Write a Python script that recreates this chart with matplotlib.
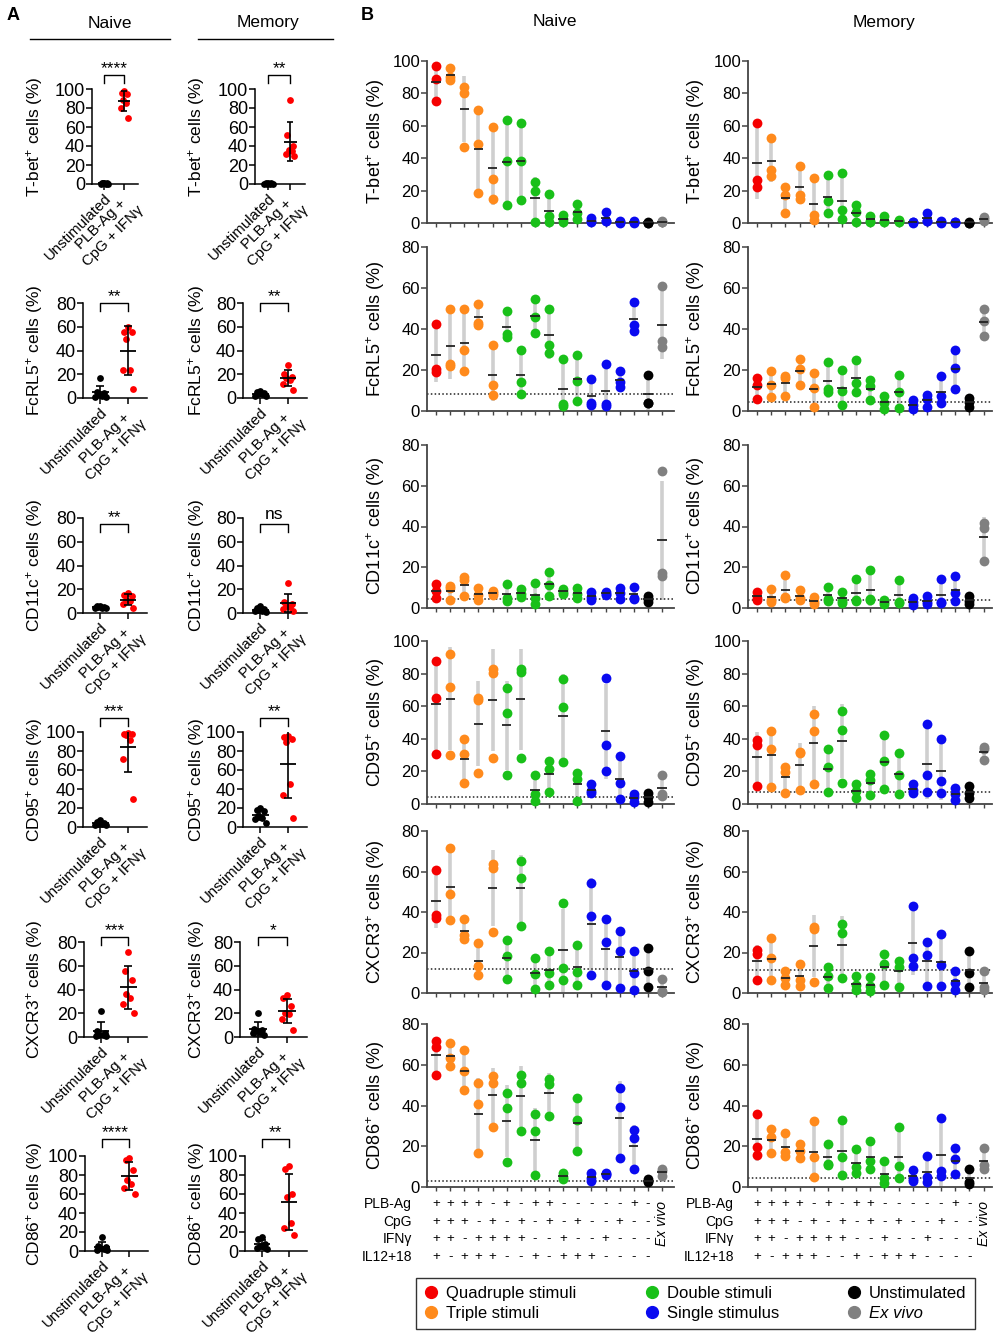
import numpy as np
import matplotlib
matplotlib.use("Agg")
import matplotlib.pyplot as plt
import matplotlib.transforms as mtransforms
from matplotlib.lines import Line2D

plt.rcParams['font.family'] = ['Liberation Sans', 'DejaVu Sans']
plt.rcParams['mathtext.fontset'] = 'custom'
plt.rcParams['mathtext.rm'] = 'Liberation Sans'
plt.rcParams['mathtext.it'] = 'Liberation Sans:italic'

W, H = 994, 1339

# ---------------- data ----------------
marker_names = ["T-bet", "FcRL5", "CD11c", "CD95", "CXCR3", "CD86"]

# panel A: 7 donors, unstimulated vs PLB-Ag + CpG + IFNg
a_naive_unstim = [[1.5, 1, 1, 0.8, 0.5, 0.5, 0.3], [17, 5, 4, 3, 2, 1, 1], [6, 5.5, 5, 5, 4.5, 4, 4],
                  [7, 5, 4, 3, 3, 2, 2], [22, 5, 3, 2, 1.5, 1, 0.5], [15, 5, 4, 3, 2, 1, 1]]
a_naive_stim = [[98, 96, 95, 88, 85, 80, 70], [60, 56, 56, 50, 24, 24, 8], [17, 15, 14, 11, 10, 8, 4],
                [99, 98, 98, 97, 92, 72, 30], [72, 56, 48, 36, 33, 28, 20], [98, 96, 85, 75, 71, 66, 60]]
a_mem_unstim = [[1, 0.8, 0.6, 0.5, 0.4, 0.3, 0.2], [6, 5, 4, 3, 3, 2, 2], [6, 4, 3, 2.5, 2, 1.5, 1],
                [20, 18, 17, 12, 10, 8, 4], [20, 7, 6, 5, 4, 3, 2], [15, 13, 7, 5, 4, 3, 2]]
a_mem_stim = [[88, 52, 40, 36, 35, 32, 29], [28, 20, 18, 17, 15, 12, 7], [25, 9, 8, 6, 5, 3, 2],
              [96, 95, 93, 90, 45, 34, 10], [35, 33, 26, 20, 19, 15, 6], [89, 86, 60, 57, 29, 24, 17]]
a_sig_naive = ["****", "**", "**", "***", "***", "****"]
a_sig_mem = ["**", "**", "ns", "**", "*", "**"]
a_xlabels = ["Unstimulated", "PLB-Ag +\nCpG + IFNγ"]

# panel B: 3 donors x 17 conditions
tbet_naive = [[97, 89, 75], [95.5, 90, 88.5], [84, 80.5, 47], [70, 48.5, 18.5], [59, 27, 15], [63.5, 38, 11],
              [62, 38, 14], [25.5, 19.5, 0.5], [18, 4.5, 0.5], [5, 2.5, 0.5], [11.5, 6, 2.5], [3, 1, 0.5],
              [7, 1.5, 1], [1, 0.5, 0.3], [1, 0.5, 0.3], [0.5, 0.3, 0.2], [1, 0.8, 0.5]]
tbet_mem = [[62, 26.5, 22], [52.5, 32.5, 29], [22, 17.5, 6], [35, 17.5, 15], [27.5, 5, 2], [29.5, 13.5, 6],
            [31, 8, 2.5], [11, 6.5, 0.5], [4.5, 1.5, 0.5], [4.5, 1, 0.5], [2, 1.5, 0.5], [0.5, 0.5, 0.3],
            [6, 1.5, 1], [1, 0.5, 0.3], [0.8, 0.5, 0.3], [0.5, 0.3, 0.2], [4, 2.5, 1]]
fcrl5_naive = [[42.5, 20.5, 19], [50, 23, 22], [50, 30, 19.5], [52, 43, 42], [32, 12.5, 8], [49, 37.5, 36],
               [30, 14, 8.5], [54.5, 46, 38], [50, 32, 28.5], [25.5, 3.5, 2.5], [27.5, 14.5, 5], [15.5, 4, 3],
               [23, 3.5, 2.5], [19.5, 14, 11.5], [53, 42, 39], [17.5, 4, 4], [61, 34, 31]]
fcrl5_mem = [[16, 12.5, 6], [19.5, 12.5, 7], [17, 16, 7.5], [25.5, 20.5, 12.5], [18.5, 11, 2], [24, 10.5, 9.5],
             [20, 10, 3], [25, 13.5, 9.5], [15, 12, 5.5], [7.5, 4, 1], [17.5, 9.5, 1.5], [5.5, 3, 1],
             [8, 6, 2], [17, 7.5, 4], [30, 21, 10.5], [6.5, 4.5, 2], [50, 44, 36.5]]
cd11c_naive = [[12, 8.5, 5], [11, 10, 4], [15, 13.5, 6], [10, 6.5, 4], [8.5, 7.5, 6.5], [12, 5, 3.5],
               [9.5, 7, 5.5], [12.5, 5, 2], [17.5, 11.5, 6], [9.5, 8, 7], [10, 7, 5], [8, 5.5, 4],
               [8, 7, 6.5], [10, 7.5, 4.5], [10.5, 5, 4.5], [6, 4.5, 3], [67, 17, 15.5]]
cd11c_mem = [[8, 5, 4], [9.5, 4, 3], [16, 5.5, 5], [9, 5, 4], [5.5, 3, 2], [10.5, 4.5, 3.5],
             [8, 3.5, 2.5], [14, 4, 3.5], [18.5, 4.5, 4], [4, 3, 2], [13.5, 3, 2.5], [5, 3, 1.5],
             [6, 3, 2], [14, 3, 2.5], [15.5, 7.5, 3.5], [6, 3.5, 2], [41.5, 39.5, 23]]
cd95_naive = [[88, 65, 30.5], [92, 71.5, 30], [40, 30.5, 13], [65, 64, 19], [83, 80.5, 28], [71, 56, 17.5],
              [83, 81, 28.5], [18, 6, 2], [26.5, 21.5, 7.5], [76.5, 59.5, 25.5], [19, 15.5, 2], [12, 8, 6.5],
              [77, 36.5, 20], [29.5, 13, 3], [6, 4, 1.5], [7, 4, 1.5], [18, 6, 5]]
cd95_mem = [[39.5, 36, 11], [45, 34, 10.5], [22.5, 19.5, 7], [32, 31, 8.5], [55.5, 45, 12], [33.5, 23, 7.5],
            [57, 45.5, 13], [12, 8, 3.5], [18.5, 15, 5.5], [42.5, 26.5, 9], [31, 18, 6], [12, 8.5, 6.5],
            [49, 17.5, 7.5], [40, 14, 6.5], [10, 6, 2.5], [11, 7, 3.5], [35, 34, 27]]
cxcr3_naive = [[60.5, 38.5, 37], [71.5, 49, 36], [36.5, 28.5, 26.5], [24.5, 13.5, 9], [63.5, 61.5, 30],
               [26, 18.5, 7], [65, 57, 33], [17.5, 9.5, 2], [20.5, 10, 4], [44.5, 12.5, 6.5], [23.5, 10.5, 4],
               [54.5, 38, 9], [36.5, 25, 4], [30.5, 20.5, 2.5], [20.5, 10, 1.5], [22, 11, 3], [7, 1, 0.5]]
cxcr3_mem = [[21, 19.5, 6.5], [27, 17.5, 6.5], [11, 7.5, 4], [14.5, 6.5, 3.5], [32.5, 31.5, 5.5],
             [13, 8.5, 2.5], [34, 29.5, 7.5], [8.5, 4, 1.5], [8, 3.5, 1], [19.5, 14.5, 4], [16, 13, 3],
             [43, 17.5, 13.5], [25, 19, 3.5], [29, 14, 3.5], [11, 5, 1.5], [20.5, 10, 3], [11, 3, 1.5]]
cd86_naive = [[71.5, 68.5, 55], [70.5, 63.5, 59.5], [67, 57, 47.5], [51, 40.5, 16.5], [54.5, 51, 29.5],
              [46, 39, 12.5], [55, 51, 27.5], [36, 27.5, 6], [53, 50.5, 35], [7, 5, 4], [43.5, 33, 17.5],
              [7, 4.5, 3], [7, 6.5, 6], [48.5, 39.5, 14], [28, 24, 9], [4, 3, 2.5], [9, 8, 5.5]]
cd86_mem = [[36, 19.5, 15.5], [28.5, 24.5, 16.5], [26.5, 17, 15], [21, 17.5, 14], [32.5, 14.5, 5],
            [21, 11.5, 11], [33, 14.5, 6], [18.5, 10, 7], [22.5, 13, 9], [13, 4.5, 2], [29.5, 10.5, 4.5],
            [8.5, 4, 3], [15, 5, 2.5], [34, 8, 5.5], [19, 13.5, 6.5], [9, 2.5, 1.5], [19, 11, 9]]

b_naive = [tbet_naive, fcrl5_naive, cd11c_naive, cd95_naive, cxcr3_naive, cd86_naive]
b_mem = [tbet_mem, fcrl5_mem, cd11c_mem, cd95_mem, cxcr3_mem, cd86_mem]
b_ymax = [100, 80, 80, 100, 80, 80]
a_ymax = [100, 80, 80, 100, 80, 100]

# stimulation table (16 cultures, then ex vivo)
stim_rows = ["PLB-Ag", "CpG", "IFNγ", "IL12+18"]
stim_plb = ['+', '+', '+', '+', '-', '+', '-', '+', '+', '-', '-', '-', '-', '-', '+', '-']
stim_cpg = ['+', '+', '+', '-', '+', '-', '+', '-', '+', '-', '+', '-', '-', '+', '-', '-']
stim_ifn = ['+', '+', '-', '+', '+', '+', '+', '-', '-', '+', '-', '-', '+', '-', '-', '-']
stim_il = ['+', '-', '+', '+', '+', '-', '-', '+', '-', '+', '+', '+', '-', '-', '-', '-']

group_kind = ['quad'] + ['triple'] * 4 + ['double'] * 6 + ['single'] * 4 + ['unstim', 'exvivo']
kind_colors = {'quad': '#f50000', 'triple': '#ff8a1c', 'double': '#19c019', 'single': '#0a0af0',
               'unstim': '#000000', 'exvivo': '#808080'}
legend_labels = ["Quadruple stimuli", "Triple stimuli", "Double stimuli", "Single stimulus",
                 "Unstimulated", "Ex vivo"]
legend_kinds = ['quad', 'triple', 'double', 'single', 'unstim', 'exvivo']


def px_axes(fig, left, top, right, bottom):
    return fig.add_axes([left / W, 1 - bottom / H, (right - left) / W, (bottom - top) / H])


def ylab(name):
    return name + r"$^{+}$ cells (%)"


fig = plt.figure(figsize=(W / 100, H / 100), dpi=100)

# ---------------- panel A ----------------
a_top = [89, 303, 518, 732, 942, 1156]
a_naive_lr = [(92, 138), (83, 147), (83, 147), (83, 147), (84, 147), (85, 148)]
a_mem_lr = [(255, 305), (243, 307), (243, 307), (243, 307), (240, 307), (245, 307)]
a_bracket = [14, 0, -6, 14, 5, 17]
jitter = np.array([0.0, -0.13, 0.13, -0.07, 0.07, -0.19, 0.19])


def draw_a(ax, unstim, stim, ymax, sig, br_px, lab_x):
    h_px = ax.get_position().height * H
    for gx, vals, col in ((0, unstim, 'black'), (1, stim, 'red')):
        vals = np.asarray(vals, float)
        ax.scatter(gx + jitter[:len(vals)], vals, s=24, color=col, lw=0, zorder=3, clip_on=False)
        m, sd = vals.mean(), vals.std(ddof=1)
        ax.hlines(m, gx - 0.3, gx + 0.3, color='black', lw=1.3, zorder=4)
        ax.vlines(gx, m - sd, m + sd, color='black', lw=1.2, zorder=4)
        ax.hlines([m - sd, m + sd], gx - 0.15, gx + 0.15, color='black', lw=1.2, zorder=4)
    ax.set_ylim(0, ymax)
    ax.set_xlim(-0.62, 1.68)
    ax.set_yticks(np.arange(0, ymax + 1, 20))
    ax.set_xticks([0, 1])
    ax.set_xticklabels(a_xlabels, rotation=45, ha='right', va='top', rotation_mode='anchor',
                       multialignment='center', fontsize=10.8)
    ax.tick_params(axis='y', labelsize=13, length=4, width=1.1, pad=1)
    ax.tick_params(axis='x', length=4, width=1.1, pad=1.5)
    for s in ('top', 'right'):
        ax.spines[s].set_visible(False)
    for s in ('left', 'bottom'):
        ax.spines[s].set_linewidth(1.1)
    ax.set_ylabel(ylab(name), fontsize=12.5)
    x0, x1 = ax.get_position().x0 * W, ax.get_position().x1 * W
    ax.yaxis.set_label_coords((lab_x - x0) / (x1 - x0), 0.5)
    trans = mtransforms.blended_transform_factory(ax.transData, ax.transAxes)
    yb = 1 + br_px / h_px
    leg = 8 / h_px
    ax.plot([0, 0, 1, 1], [yb - leg, yb, yb, yb - leg], transform=trans, clip_on=False,
            color='black', lw=1)
    if sig == 'ns':
        ax.text(0.5, yb + 2 / h_px, sig, transform=trans, ha='center', va='bottom', fontsize=12.5)
    else:
        ax.text(0.5, yb - 1 / h_px, sig, transform=trans, ha='center', va='bottom', fontsize=12.5)


for i, name in enumerate(marker_names):
    ax = px_axes(fig, a_naive_lr[i][0], a_top[i], a_naive_lr[i][1], a_top[i] + 95)
    draw_a(ax, a_naive_unstim[i], a_naive_stim[i], a_ymax[i], a_sig_naive[i], a_bracket[i], 45)
    ax = px_axes(fig, a_mem_lr[i][0], a_top[i], a_mem_lr[i][1], a_top[i] + 95)
    draw_a(ax, a_mem_unstim[i], a_mem_stim[i], a_ymax[i], a_sig_mem[i], a_bracket[i], 207)

# ---------------- panel B ----------------
b_top = [61, 247, 445, 641, 831, 1024]
b_bot = [223, 411, 608, 804, 993, 1187]
b_cols = [((427, 674), 0.36, 17.85, 387), ((748, 992), 0.36, 17.6, 707)]
groups = np.arange(1, 18)


def draw_b(ax, data, ymax, xhi, lab_x, name):
    for gx, vals, kind in zip(groups, data, group_kind):
        vals = np.asarray(vals, float)
        m, sd = vals.mean(), vals.std(ddof=1)
        ax.vlines(gx, m - sd, m + sd, color='#cfcfcf', lw=2.6, zorder=1)
        ax.scatter(np.full(len(vals), gx), vals, s=50, color=kind_colors[kind], lw=0, zorder=3,
                   clip_on=False)
        ax.hlines(m, gx - 0.33, gx + 0.33, color='#222222', lw=1.3, zorder=4)
    base = np.mean(data[group_kind.index('unstim')])
    if base > 1:
        ax.axhline(base, color='#222222', lw=1.1, ls=(0, (1, 1.5)), zorder=2)
    ax.set_xlim(0.36, xhi)
    ax.set_ylim(0, ymax)
    ax.set_yticks(np.arange(0, ymax + 1, 20))
    ax.set_xticks(groups)
    ax.set_xticklabels([])
    ax.tick_params(axis='y', labelsize=12, length=4, width=1.1, color='#444444', pad=1)
    ax.tick_params(axis='x', length=3, width=1, color='#444444')
    for s in ('top', 'right'):
        ax.spines[s].set_visible(False)
    for s in ('left', 'bottom'):
        ax.spines[s].set_linewidth(1.3)
        ax.spines[s].set_color('#444444')
    ax.set_ylabel(ylab(name), fontsize=13)
    x0, x1 = ax.get_position().x0 * W, ax.get_position().x1 * W
    ax.yaxis.set_label_coords((lab_x - x0) / (x1 - x0), 0.5)


b_last = []
for i, name in enumerate(marker_names):
    for data, ((l, r), xlo, xhi, lab_x) in zip((b_naive[i], b_mem[i]), b_cols):
        ax = px_axes(fig, l, b_top[i], r, b_bot[i])
        draw_b(ax, data, b_ymax[i], xhi, lab_x, name)
        if i == len(marker_names) - 1:
            b_last.append(ax)

# stimulation table
table_y = [1204, 1222, 1239, 1257]
table_vals = [stim_plb, stim_cpg, stim_ifn, stim_il]
for ax, lab_right in zip(b_last, (412, 734)):
    trans = mtransforms.blended_transform_factory(ax.transData, fig.transFigure)
    for row, yp, vals in zip(stim_rows, table_y, table_vals):
        fig.text(lab_right / W, 1 - yp / H, row, ha='right', va='center', fontsize=10)
        for gx, v in zip(groups, vals):
            ax.text(gx, 1 - yp / H, v, transform=trans, ha='center', va='center', fontsize=9.5)
    ax.text(groups[-1], 1 - 1224 / H, "Ex vivo", transform=trans, ha='center', va='center',
            rotation=90, style='italic', fontsize=10)

# legend
handles = [Line2D([], [], marker='o', ls='', color=kind_colors[k], markersize=8.5) for k in legend_kinds]
leg = fig.legend(handles, legend_labels, ncol=3, loc='center',
                 bbox_to_anchor=((413 + 978) / 2 / W, 1 - (1275 + 1332) / 2 / H),
                 fontsize=12, frameon=True, fancybox=False, edgecolor='black',
                 handlelength=0.8, handletextpad=0.5, columnspacing=4.1, labelspacing=0.3,
                 borderpad=0.5)
leg.get_frame().set_linewidth(1.0)
leg.get_texts()[-1].set_style('italic')

# titles and panel letters
fig.text(13 / W, 1 - 16 / H, "A", fontsize=13, fontweight='bold', ha='center', va='center')
fig.text(367 / W, 1 - 16 / H, "B", fontsize=13, fontweight='bold', ha='center', va='center')
for cx, x0, x1, t in ((110, 30, 170, "Naive"), (268, 198, 333, "Memory")):
    fig.text(cx / W, 1 - 23 / H, t, fontsize=12.5, ha='center', va='center')
    fig.add_artist(Line2D([x0 / W, x1 / W], [1 - 39 / H] * 2, color='black', lw=1))
fig.text(555 / W, 1 - 22 / H, "Naive", fontsize=12.5, ha='center', va='center')
fig.text(884 / W, 1 - 22 / H, "Memory", fontsize=12.5, ha='center', va='center')

fig.savefig("out.png", dpi=100)
